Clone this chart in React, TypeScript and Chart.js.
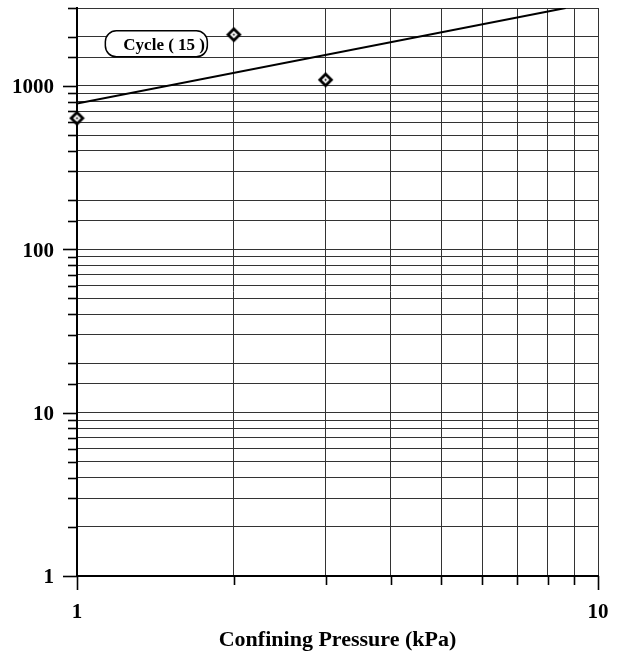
import React, { useEffect, useRef } from 'react';
import { Chart, registerables } from 'chart.js';
Chart.register(...registerables);

const pressures = [1, 2, 3];
const modulus = [635, 2060, 1090];
const trendX = [1, 8.67];
const trendY = [780, 3000];
const xTicks = [1, 2, 3, 4, 5, 6, 7, 8, 9, 10];
const xTickLabels = [1, 10];
const yTickLabels = [1, 10, 100, 1000];
const annotationText = 'Cycle ( 15 )';
const annotationAt = { x: 1.42, y: 1810 };
const xTitle = 'Confining Pressure (kPa)';

const FONT = '"Liberation Serif", "Times New Roman", serif';

function makeMarker() {
  const c = document.createElement('canvas');
  c.width = 17;
  c.height = 17;
  const g = c.getContext('2d')!;
  g.translate(8.5, 8.5);
  g.beginPath();
  g.moveTo(0, -5.8);
  g.lineTo(5.8, 0);
  g.lineTo(0, 5.8);
  g.lineTo(-5.8, 0);
  g.closePath();
  g.fillStyle = '#fff';
  g.fill();
  g.lineWidth = 2.8;
  g.strokeStyle = '#000';
  g.stroke();
  g.beginPath();
  g.arc(0, 0, 1, 0, Math.PI * 2);
  g.fillStyle = '#000';
  g.fill();
  return c;
}

const extrasPlugin = {
  id: 'extras',
  afterDraw(chart: any) {
    const { ctx, scales, chartArea } = chart;
    const x = scales.x;
    const y = scales.y;
    ctx.save();
    ctx.strokeStyle = '#000';
    ctx.lineWidth = 1.6;
    y.ticks.forEach((t: any) => {
      const p = Math.round(y.getPixelForValue(t.value)) + 0.5;
      const len = yTickLabels.includes(t.value) ? 14 : 9;
      ctx.beginPath();
      ctx.moveTo(chartArea.left - len, p);
      ctx.lineTo(chartArea.left, p);
      ctx.stroke();
    });
    x.ticks.forEach((t: any) => {
      const p = Math.round(x.getPixelForValue(t.value)) + 0.5;
      const len = xTickLabels.includes(t.value) ? 14 : 9;
      ctx.beginPath();
      ctx.moveTo(p, chartArea.bottom);
      ctx.lineTo(p, chartArea.bottom + len);
      ctx.stroke();
    });
    // annotation box
    const cx = x.getPixelForValue(annotationAt.x);
    const cy = y.getPixelForValue(annotationAt.y);
    const w = 102, h = 26, r = 11;
    const bx = cx - w / 2, by = cy - h / 2;
    ctx.fillStyle = '#fff';
    ctx.lineWidth = 1.5;
    ctx.beginPath();
    ctx.roundRect(bx, by, w, h, r);
    ctx.fill();
    ctx.stroke();
    ctx.fillStyle = '#000';
    ctx.font = 'bold 17px ' + FONT;
    ctx.textAlign = 'left';
    ctx.textBaseline = 'middle';
    ctx.fillText(annotationText, bx + 18, cy + 1.5);
    ctx.restore();
  },
};

export default function App() {
  const ref = useRef<HTMLCanvasElement | null>(null);
  useEffect(() => {
    if (!ref.current) return;
    const marker = makeMarker();
    const chart = new Chart(ref.current, {
      type: 'scatter',
      data: {
        datasets: [
          {
            label: 'trend',
            data: trendX.map((v, i) => ({ x: v, y: trendY[i] })),
            showLine: true,
            borderColor: '#000',
            borderWidth: 2,
            pointRadius: 0,
            fill: false,
          },
          {
            label: 'data',
            data: pressures.map((v, i) => ({ x: v, y: modulus[i] })),
            pointStyle: marker as any,
            pointRadius: 6,
            showLine: false,
            clip: false as any,
          },
        ],
      },
      options: {
        animation: false,
        responsive: false,
        maintainAspectRatio: false,
        layout: { padding: { top: 8, right: 22, left: 0, bottom: 0 } },
        plugins: {
          legend: { display: false },
          tooltip: { enabled: false },
        },
        scales: {
          x: {
            type: 'logarithmic',
            min: 1,
            max: 10,
            afterBuildTicks(scale: any) {
              scale.ticks = xTicks.map((v) => ({ value: v, major: false }));
            },
            afterFit(scale: any) {
              scale.height = 81;
              scale.paddingLeft = 0;
              scale.paddingRight = 0;
            },
            border: { display: true, color: '#000', width: 2 },
            grid: { color: '#333', lineWidth: 1, drawTicks: false },
            ticks: {
              autoSkip: false,
              maxRotation: 0,
              padding: 24,
              color: '#000',
              font: { family: FONT, size: 21, weight: 'bold' },
              callback: (v: any) => (xTickLabels.includes(Number(v)) ? String(v) : ''),
            },
            title: {
              display: true,
              text: xTitle,
              color: '#000',
              font: { family: FONT, size: 22, weight: 'bold' },
              padding: { top: 0, bottom: 3 },
            },
          },
          y: {
            type: 'logarithmic',
            min: 1,
            max: 3000,
            afterFit(scale: any) {
              scale.width = 77;
              scale.paddingTop = 0;
              scale.paddingBottom = 0;
            },
            border: { display: true, color: '#000', width: 2 },
            grid: { color: '#333', lineWidth: 1, drawTicks: false },
            ticks: {
              autoSkip: false,
              padding: 23,
              labelOffset: 2,
              color: '#000',
              font: { family: FONT, size: 21, weight: 'bold' },
              callback: (v: any) => (yTickLabels.includes(Number(v)) ? String(v) : ''),
            },
          },
        },
      },
      plugins: [extrasPlugin],
    });
    return () => chart.destroy();
  }, []);
  return (
    <div style={{ position: 'absolute', left: 0, top: 0, width: 620, height: 657 }}>
      <canvas ref={ref} width={620} height={657} style={{ display: 'block' }} />
    </div>
  );
}
